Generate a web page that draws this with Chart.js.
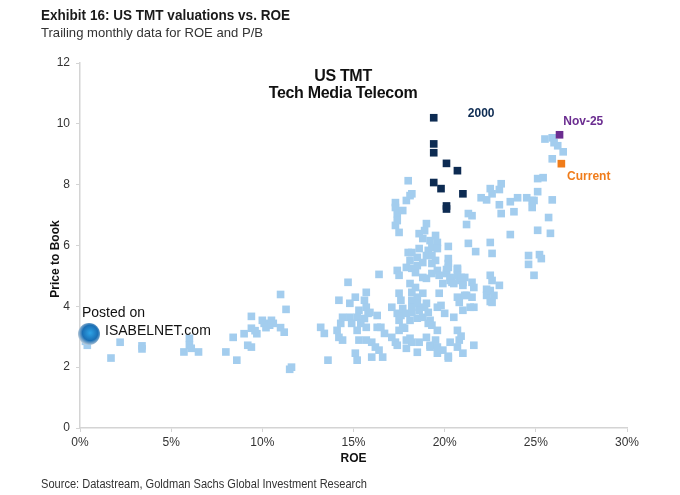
<!DOCTYPE html>
<html>
<head>
<meta charset="utf-8">
<script src="https://cdn.jsdelivr.net/npm/chart.js@4.4.1/dist/chart.umd.min.js"></script>
<style>
  html, body { margin: 0; padding: 0; background: #fff; }
  #wrap { position: relative; width: 680px; height: 495px; overflow: hidden; }
  #chart { position: absolute; left: 0; top: 0; }
  .txt { position: absolute; white-space: nowrap; color: #222; }
  .fit { transform-origin: 0 0; font-family: "Liberation Sans", Arial, sans-serif; }
  #head { left: 41px; top: 6px; font-size: 15px; font-weight: bold; color: #1a1a1a; }
  #sub { left: 41px; top: 25px; font-size: 13.5px; color: #333; }
  #src { left: 41px; top: 477px; font-size: 12.5px; color: #333; }
  .inner { left: 0; width: 686px; text-align: center; font-family: "Liberation Sans", Arial, sans-serif;
           font-weight: bold; font-size: 16px; color: #111; letter-spacing: -0.3px; }
  #ytitle { left: 15px; top: 252px; width: 80px; text-align: center; transform: rotate(-90deg);
            font-family: "Liberation Sans", Arial, sans-serif; font-weight: bold; font-size: 12px; color: #111; }
  #wm1 { left: 82px; top: 304px; font-family: "Liberation Sans", Arial, sans-serif; font-size: 14px; color: #111; }
  #wm2 { left: 105px; top: 322px; font-family: "Liberation Sans", Arial, sans-serif; font-size: 14px; color: #111; }
  #logo { position: absolute; left: 78px; top: 323px; width: 22px; height: 22px; border-radius: 50%;
          background: radial-gradient(circle at 55% 45%, #2ea3e6 0%, #1a6fb5 45%, #c9d3dc 75%, #8a98a6 100%); }
</style>
</head>
<body>
<div id="wrap">
  <canvas id="chart" width="680" height="495"></canvas>
  <div id="head" class="txt fit" data-w="249">Exhibit 16: US TMT valuations vs. ROE</div>
  <div id="sub" class="txt fit" data-w="222">Trailing monthly data for ROE and P/B</div>
  <div class="txt inner" style="top:67px">US TMT</div>
  <div class="txt inner" style="top:84px">Tech Media Telecom</div>
  <div id="ytitle" class="txt">Price to Book</div>
  <div id="wm1" class="txt">Posted on</div>
  <div id="logo"></div>
  <div id="wm2" class="txt">ISABELNET.com</div>
  <div id="src" class="txt fit" data-w="326">Source: Datastream, Goldman Sachs Global Investment Research</div>
</div>
<script>
// squeeze the header/footer text to the condensed widths of the original
document.querySelectorAll('.fit').forEach(el => {
  const w = el.getBoundingClientRect().width;
  el.style.transform = 'scaleX(' + (el.dataset.w / w) + ')';
});

// trailing monthly history (ROE %, P/B)
const roeHistory = [
  0.3, 0.4, 1.7, 2.2, 3.4, 3.4, 5.7, 6.0, 6.0, 6.1, 6.5, 8.0, 8.4, 8.6, 9.0, 9.2, 9.4, 9.4, 9.4, 9.6,
  9.7, 10.0, 10.1, 10.2, 10.4, 10.5, 10.6, 11.0, 11.3, 11.0, 11.2, 11.5, 11.6,
  13.2, 13.4, 13.6, 14.1, 14.2, 14.2, 14.3, 14.4, 14.4, 14.7, 14.8, 14.8, 14.9, 15.1, 15.1, 15.2, 15.2, 15.2,
  15.3, 15.3, 15.4, 15.6, 15.6, 15.7, 15.7, 15.7, 15.7, 15.8, 15.9, 16.0, 16.0, 16.2, 16.3, 16.3, 16.4, 16.4,
  16.5, 16.6, 16.7, 17.1, 17.1, 17.3, 17.3, 17.3, 17.3, 17.4, 17.4, 17.4, 17.4, 17.4, 17.5, 17.5, 17.5, 17.5,
  17.5, 17.6, 17.6, 17.7, 17.7, 17.7, 17.8, 17.9, 17.9, 17.9, 17.9, 17.9, 18.0, 18.0, 18.1, 18.1, 18.1, 18.1,
  18.1, 18.2, 18.2, 18.2, 18.2, 18.2, 18.2, 18.2, 18.2, 18.4, 18.4, 18.5, 18.5, 18.5, 18.5, 18.5, 18.5, 18.6,
  18.6, 18.6, 18.6, 18.8, 18.8, 18.8, 18.8, 18.8, 18.9, 18.9, 19.0, 19.0, 19.0, 19.0, 19.0, 19.1, 19.1, 19.1,
  19.2, 19.2, 19.2, 19.2, 19.3, 19.3, 19.3, 19.3, 19.3, 19.5, 19.5, 19.5, 19.6, 19.6, 19.6, 19.6, 19.6, 19.6,
  19.6, 19.7, 19.7, 19.8, 19.9, 19.9, 20.0, 20.1, 20.1, 20.2, 20.2, 20.2, 20.2, 20.2, 20.2, 20.3, 20.3, 20.3,
  20.4, 20.5, 20.5, 20.7, 20.7, 20.7, 20.7, 20.7, 20.7, 20.8, 20.8, 20.8, 20.9, 20.9, 21.0, 21.0, 21.0, 21.0,
  21.1, 21.1, 21.2, 21.2, 21.3, 21.3, 21.4, 21.5, 21.5, 21.5, 21.6, 21.6, 21.6, 21.7, 22.0, 22.3, 22.3, 22.3,
  22.5, 22.5, 22.5, 22.5, 22.5, 22.6, 22.6, 22.6, 22.6, 22.7, 23.0, 23.0, 23.0, 23.1, 23.1, 23.6, 23.6, 23.8,
  24.0, 24.5, 24.6, 24.6, 24.8, 24.8, 24.9, 24.9, 25.1, 25.1, 25.1, 25.2, 25.3, 25.4, 25.5, 25.7, 25.8, 25.9,
  25.9, 25.9, 26.0, 26.2, 26.5
];
const pbHistory = [
  2.85, 2.72, 2.30, 2.82, 2.70, 2.60, 2.50, 2.95, 2.72, 2.62, 2.50, 2.50, 2.98, 2.23, 3.10, 2.72, 2.66, 3.67, 3.28, 3.20,
  3.10, 3.54, 3.44, 3.30, 3.38, 3.54, 3.44, 4.39, 3.90, 3.30, 3.15, 1.93, 2.00,
  3.31, 3.11, 2.23, 3.21, 2.98, 4.20, 3.44, 3.64, 2.89, 4.79, 4.10, 3.64, 3.44, 4.30, 2.46, 3.64, 3.21, 2.23,
  2.89, 3.87, 3.44, 4.20, 3.60, 4.46, 3.97, 3.31, 2.89, 3.77, 3.80, 2.82, 2.33, 2.66, 3.31, 3.70, 5.05, 2.56,
  3.31, 2.33, 3.11, 3.97, 2.98, 7.41, 7.25, 6.66, 2.82, 7.05, 6.82, 5.18, 3.77, 2.72, 6.43, 5.02, 4.43, 3.54,
  3.21, 4.20, 3.70, 7.15, 3.93, 3.31, 3.28, 7.48, 5.28, 3.77, 2.89, 2.62, 8.13, 5.77, 7.64, 5.51, 4.75, 3.54,
  2.95, 7.70, 5.77, 5.25, 4.46, 4.20, 3.97, 3.80, 2.82, 5.11, 4.62, 5.61, 5.34, 4.30, 4.10, 3.61, 2.49, 6.39,
  5.90, 3.87, 2.82, 6.23, 5.44, 4.95, 4.43, 3.64, 6.49, 3.97, 6.72, 5.67, 4.92, 4.10, 2.98, 5.84, 3.80, 3.44,
  6.16, 3.54, 2.72, 2.66, 5.93, 5.67, 5.41, 5.08, 3.38, 6.33, 5.51, 2.89, 6.10, 5.90, 5.18, 3.97, 3.21, 2.66,
  2.46, 5.02, 4.43, 4.03, 4.75, 2.56, 3.77, 5.08, 5.21, 5.97, 5.57, 5.41, 5.28, 2.36, 2.30, 4.95, 4.85, 2.82,
  4.79, 4.75, 3.64, 5.25, 5.21, 5.02, 4.30, 3.21, 2.66, 4.85, 4.13, 2.89, 4.95, 3.02, 4.79, 4.69, 3.87, 2.46,
  4.95, 4.36, 6.69, 4.36, 7.05, 6.07, 3.97, 6.98, 4.79, 4.30, 4.62, 3.97, 2.72, 5.80, 7.57, 7.50, 4.56, 4.36,
  7.87, 6.10, 5.02, 4.52, 4.16, 7.70, 5.74, 4.85, 4.13, 4.36, 7.84, 7.34, 4.69, 8.03, 7.05, 7.44, 6.36, 7.11,
  7.57, 7.57, 5.67, 5.38, 7.48, 7.25, 7.48, 5.02, 8.20, 7.77, 6.50, 5.70, 5.57, 8.23, 9.50, 6.92, 6.40, 9.54,
  8.85, 7.50, 9.38, 9.28, 9.08
];
// year 2000 months
const roe2000 = [19.4, 19.4, 19.4, 20.1, 20.7, 19.4, 19.8, 21.0, 20.1, 20.1];
const pb2000 = [10.2, 9.34, 9.05, 8.70, 8.46, 8.07, 7.87, 7.70, 7.30, 7.20];
const nov25 = { roe: 26.3, pb: 9.64 };
const current = { roe: 26.4, pb: 8.69 };

const xTicks = [0, 5, 10, 15, 20, 25, 30];

// text labels next to the highlighted points (data coords)
const callouts = [
  { text: '2000', roe: 22.0, pb: 10.33, color: '#0d2b52' },
  { text: 'Nov-25', roe: 27.6, pb: 10.07, color: '#6b2d90' },
  { text: 'Current', roe: 27.9, pb: 8.26, color: '#f07c1a' }
];

const toPoints = (xs, ys) => xs.map((x, i) => ({ x: x, y: ys[i] }));

const calloutPlugin = {
  id: 'callouts',
  afterDatasetsDraw(chart) {
    const ctx = chart.ctx;
    const xs = chart.scales.x, ys = chart.scales.y;
    ctx.save();
    ctx.font = 'bold 12px "Liberation Sans", Arial, sans-serif';
    ctx.textAlign = 'center';
    ctx.textBaseline = 'middle';
    callouts.forEach(c => {
      ctx.fillStyle = c.color;
      ctx.fillText(c.text, xs.getPixelForValue(c.roe), ys.getPixelForValue(c.pb));
    });
    ctx.restore();
  }
};

const sq = { pointStyle: 'rect', pointRadius: 5.4, pointHoverRadius: 5.4, borderWidth: 0, showLine: false };

new Chart(document.getElementById('chart'), {
  type: 'scatter',
  data: {
    datasets: [
      Object.assign({ label: 'Nov-25', data: [{ x: nov25.roe, y: nov25.pb }], backgroundColor: '#6b2d90' }, sq),
      Object.assign({ label: 'Current', data: [{ x: current.roe, y: current.pb }], backgroundColor: '#f07c1a' }, sq),
      Object.assign({ label: '2000', data: toPoints(roe2000, pb2000), backgroundColor: '#0d2b52' }, sq),
      Object.assign({ label: 'History', data: toPoints(roeHistory, pbHistory), backgroundColor: '#a3cdee' }, sq)
    ]
  },
  options: {
    responsive: false,
    animation: false,
    devicePixelRatio: 1,
    layout: { padding: { left: 0, top: 63, right: 53, bottom: 0 } },
    plugins: { legend: { display: false }, tooltip: { enabled: false } },
    scales: {
      x: {
        type: 'linear',
        min: 0, max: 30,
        afterBuildTicks: s => { s.ticks = xTicks.map(v => ({ value: v })); },
        afterFit: s => { s.height = 67; },
        ticks: {
          padding: 3,
          color: '#333',
          font: { family: '"Liberation Sans", Arial, sans-serif', size: 12 },
          callback: v => v + '%'
        },
        grid: { drawOnChartArea: false, tickLength: 4, color: '#d4d4d4' },
        border: { color: '#d4d4d4', width: 1.5 },
        title: {
          display: true, text: 'ROE', color: '#111',
          font: { family: '"Liberation Sans", Arial, sans-serif', size: 12, weight: 'bold' },
          padding: { top: 0, bottom: 29 }
        }
      },
      y: {
        min: 0, max: 12,
        afterFit: s => { s.width = 80; },
        ticks: {
          stepSize: 2, padding: 6, color: '#333',
          font: { family: '"Liberation Sans", Arial, sans-serif', size: 12 }
        },
        grid: { drawOnChartArea: false, tickLength: 4, color: '#d4d4d4' },
        border: { color: '#d4d4d4', width: 1.5 }
      }
    }
  },
  plugins: [calloutPlugin]
});
</script>
</body>
</html>
